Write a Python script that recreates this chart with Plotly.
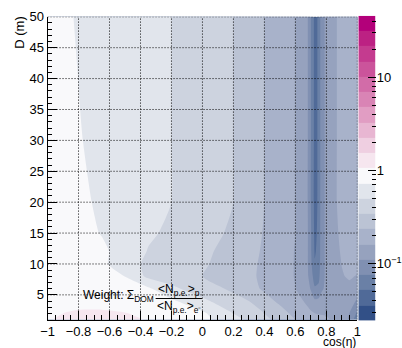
import numpy as np
import plotly.graph_objects as go

# ---- data (log10 of the weight ratio) ----
cos_eta = [-1, -0.8, -0.65, -0.5, -0.35, -0.2, 0, 0.2, 0.3, 0.4, 0.5, 0.6,
           0.65, 0.68, 0.7, 0.725, 0.75, 0.77, 0.8, 0.85, 0.9, 0.95, 1.0]
dist_m = [1, 2, 4, 6, 8, 10, 12, 15, 20, 30, 40, 50]
log_weight = [
    [0.02, 0.05, 0.055, 0.045, 0.02, -0.02, -0.09, -0.25, -0.33, -0.42, -0.53, -0.63, -0.68, -0.71, -0.73, -0.75, -0.76, -0.77, -0.78, -0.81, -0.87, -0.98, -1.25],
    [0.015, 0.035, 0.04, 0.03, 0.0, -0.04, -0.11, -0.302, -0.38, -0.4655, -0.57, -0.67, -0.72, -0.75, -0.77, -0.79, -0.8, -0.8, -0.8, -0.82, -0.87, -0.96, -1.15],
    [0.01, 0.0, -0.01, -0.03, -0.06, -0.11, -0.27, -0.4, -0.4655, -0.57, -0.66, -0.74, -0.79, -0.83, -0.87, -0.93, -0.92, -0.88, -0.85, -0.84, -0.85, -0.88, -0.98],
    [0.0, -0.02, -0.04, -0.08, -0.11, -0.27, -0.38, -0.5, -0.58, -0.65, -0.72, -0.79, -0.85, -0.9, -0.97, -1.1, -1.08, -0.98, -0.92, -0.86, -0.82, -0.82, -0.88],
    [-0.005, -0.03, -0.07, -0.14, -0.34, -0.38, -0.4655, -0.55, -0.6, -0.66, -0.73, -0.8, -0.87, -0.94, -1.04, -1.2, -1.17, -1.0, -0.93, -0.85, -0.8, -0.78, -0.8],
    [-0.01, -0.05, -0.1, -0.24, -0.33, -0.37, -0.45, -0.52, -0.59, -0.66, -0.73, -0.8, -0.88, -0.95, -1.08, -1.27, -1.22, -1.0, -0.93, -0.84, -0.79, -0.76, -0.76],
    [-0.01, -0.06, -0.11, -0.2, -0.31, -0.36, -0.44, -0.51, -0.58, -0.65, -0.72, -0.8, -0.88, -0.95, -1.1, -1.3, -1.24, -1.0, -0.93, -0.83, -0.78, -0.75, -0.74],
    [-0.02, -0.09, -0.145, -0.22, -0.28, -0.33, -0.41, -0.49, -0.56, -0.64, -0.71, -0.79, -0.88, -0.95, -1.1, -1.32, -1.25, -1.0, -0.93, -0.82, -0.77, -0.74, -0.72],
    [-0.03, -0.11, -0.16, -0.21, -0.26, -0.302, -0.384, -0.4655, -0.55, -0.629, -0.71, -0.7925, -0.89, -0.956, -1.12, -1.33, -1.26, -1.0, -0.93, -0.81, -0.76, -0.73, -0.7],
    [-0.04, -0.13, -0.175, -0.22, -0.26, -0.302, -0.384, -0.4655, -0.55, -0.629, -0.71, -0.7925, -0.89, -0.956, -1.12, -1.33, -1.26, -1.0, -0.93, -0.81, -0.76, -0.73, -0.7],
    [-0.05, -0.14, -0.18, -0.22, -0.26, -0.302, -0.384, -0.4655, -0.55, -0.629, -0.71, -0.7925, -0.89, -0.956, -1.12, -1.33, -1.26, -1.0, -0.93, -0.81, -0.76, -0.73, -0.7],
    [-0.08, -0.15, -0.18, -0.22, -0.26, -0.302, -0.384, -0.4655, -0.55, -0.629, -0.71, -0.7925, -0.89, -0.956, -1.12, -1.33, -1.26, -1.0, -0.93, -0.81, -0.76, -0.73, -0.7],
]

# colour-scale range (log10) and number of contour bands (ROOT default 20)
log_zmin, log_zmax, n_bands = -1.61, 1.66, 20
band_colors = [  # lowest band to highest band
    "#325087", "#506a98", "#6a80a6", "#8090b2", "#96a2be", "#a8b2ca",
    "#bbc3d4", "#cdd3df", "#e1e5ec", "#f9f9fb",
    "#f6e6ef", "#efcfe1", "#e8b6d2", "#e19dc3", "#d984b5", "#d26ca8",
    "#cb549b", "#c43b8f", "#bc2183", "#b3007a",
]

# axis ticks
x_ticks = [-1, -0.8, -0.6, -0.4, -0.2, 0, 0.2, 0.4, 0.6, 0.8, 1]
x_ticktext = ["−1", "−0.8", "−0.6", "−0.4", "−0.2", "0", "0.2", "0.4", "0.6", "0.8", "1"]
y_ticks = [5, 10, 15, 20, 25, 30, 35, 40, 45, 50]

step = (log_zmax - log_zmin) / n_bands
colorscale = [[i / (n_bands - 1), c] for i, c in enumerate(band_colors)]

fig = go.Figure()
fig.add_trace(go.Contour(
    x=cos_eta, y=dist_m, z=log_weight,
    contours=dict(start=log_zmin + step, end=log_zmax - step + 1e-6, size=step,
                  coloring="fill", showlines=False),
    line=dict(width=0, smoothing=0.6),
    colorscale=colorscale, showscale=False, hoverinfo="skip",
    xaxis="x", yaxis="y",
))

# palette drawn as its own log axis (ROOT style)
edges = [10 ** (log_zmin + k * step) for k in range(n_bands + 1)]
fig.add_trace(go.Heatmap(
    x=[0, 1], y=edges, z=[[i] for i in range(n_bands)],
    colorscale=colorscale, zmin=0, zmax=n_bands - 1, showscale=False,
    hoverinfo="skip", xaxis="x2", yaxis="y2",
))

W, H = 402, 348
font = "Liberation Sans, Arial, Helvetica, sans-serif"
px = lambda v: v / W
py = lambda v: 1 - v / H

minor_vals = [m * 10 ** e for e in (-2, -1, 0, 1) for m in range(2, 10)]

grid_style = dict(color="black", width=1, dash="1px,2px")
shapes = []
for v in x_ticks[1:]:
    shapes.append(dict(type="line", xref="x", yref="y domain", x0=v, x1=v, y0=0, y1=1,
                       line=grid_style, layer="above"))
for v in y_ticks:
    shapes.append(dict(type="line", xref="x domain", yref="y", x0=0, x1=1, y0=v, y1=v,
                       line=grid_style, layer="above"))
shapes.append(dict(type="line", xref="paper", yref="paper", x0=px(154), x1=px(202),
                   y0=py(297.5), y1=py(297.5), line=dict(color="black", width=1)))

fig.update_layout(
    width=W, height=H, margin=dict(l=0, r=0, t=0, b=0),
    paper_bgcolor="white", plot_bgcolor="white",
    font=dict(family=font, size=13, color="black"),
    showlegend=False,
    xaxis=dict(domain=[px(42), px(363)], range=[-1, 1],
               tickmode="array", tickvals=x_ticks, ticktext=x_ticktext,
               ticks="inside", ticklen=9, tickwidth=1, tickcolor="black",
               minor=dict(ticks="inside", ticklen=4.5, dtick=0.05, tick0=-1, tickcolor="black", showgrid=False),
               showline=True, linecolor="black", linewidth=1, mirror=False,
               showgrid=False, zeroline=False, layer="above traces", anchor="y"),
    yaxis=dict(domain=[py(319), py(10)], range=[1, 50],
               tickmode="array", tickvals=y_ticks,
               ticks="inside", ticklen=9, tickwidth=1, tickcolor="black",
               minor=dict(ticks="inside", ticklen=4.5, dtick=1, tick0=0, tickcolor="black", showgrid=False),
               showline=True, linecolor="black", linewidth=1,
               showgrid=False, zeroline=False, layer="above traces", anchor="x"),
    xaxis2=dict(domain=[px(364), px(382)], range=[0, 1], visible=False, anchor="y2"),
    yaxis2=dict(domain=[py(320), py(9)], type="log", range=[log_zmin, log_zmax],
                side="right", anchor="x2", ticks="inside", ticklen=8, tickcolor="black",
                tickmode="array", tickvals=[0.1, 1, 10],
                ticktext=["10<sup>−1</sup>", "1", "10"],
                minor=dict(ticks="inside", ticklen=4, tickmode="array", tickvals=minor_vals, tickcolor="black", showgrid=False),
                showline=False, showgrid=False, zeroline=False, layer="above traces"),
    annotations=[
        dict(text="D (m)", textangle=-90, xref="paper", yref="paper",
             x=px(3), y=py(7), xanchor="left", yanchor="top", showarrow=False, font=dict(size=13)),
        dict(text="cos(η)", xref="paper", yref="paper",
             x=px(364), y=py(341.5), xanchor="right", yanchor="middle", showarrow=False, font=dict(size=12)),
        dict(text="Weight: Σ<sub>DOM</sub>", xref="paper", yref="paper",
             x=px(154), y=py(295), xanchor="right", yanchor="middle", showarrow=False, font=dict(size=12)),
        dict(text="&lt;N<sub>p.e.</sub>&gt;<sub>p</sub>", xref="paper", yref="paper",
             x=px(178), y=py(289), xanchor="center", yanchor="middle", showarrow=False, font=dict(size=12)),
        dict(text="&lt;N<sub>p.e.</sub>&gt;<sub>e⁻</sub>", xref="paper", yref="paper",
             x=px(178), y=py(306), xanchor="center", yanchor="middle", showarrow=False, font=dict(size=12)),
    ],
    shapes=shapes,
)

fig.write_html("out.html")
